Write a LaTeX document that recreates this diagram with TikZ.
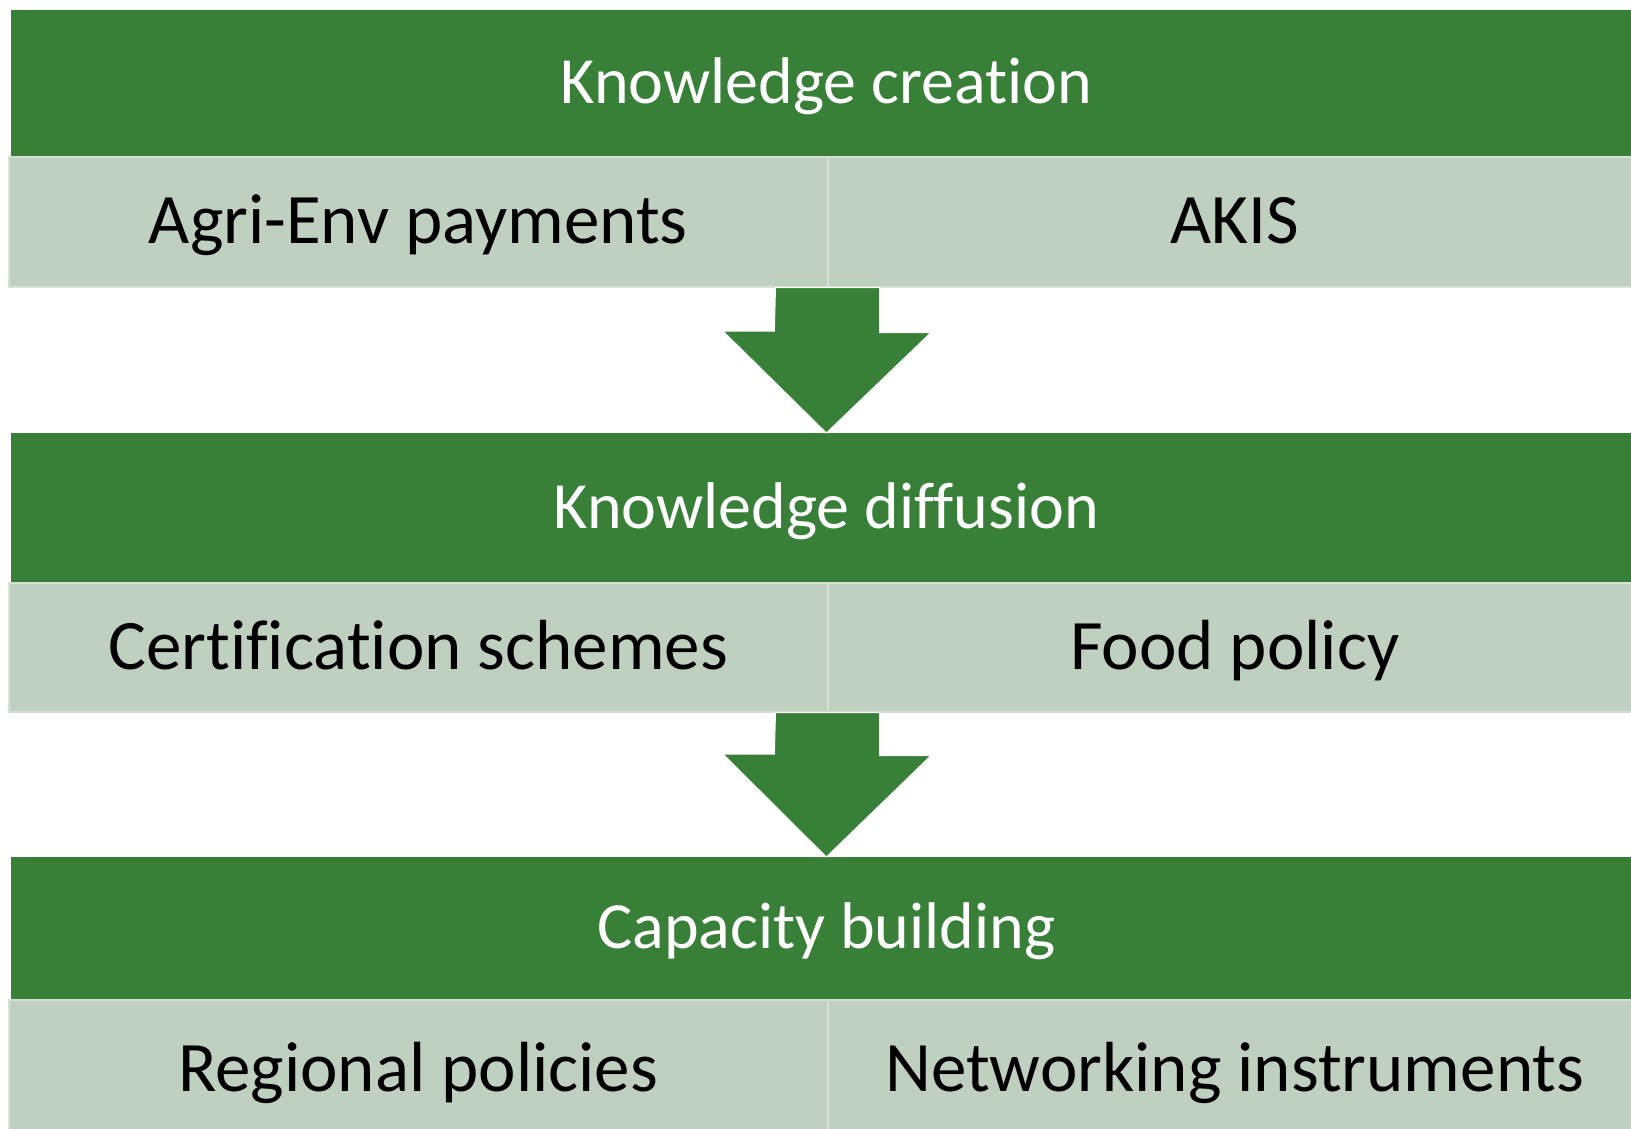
\documentclass[tikz,border=0pt]{standalone}
\usepackage{fontspec}
\newfontfamily\calib[Ligatures={NoCommon}]{Carlito}
\definecolor{kgreen}{RGB}{56,128,56}
\definecolor{kpale}{RGB}{192,208,192}
\definecolor{kline}{RGB}{214,224,214}

\tikzset{every picture/.style={line width=0.75pt}}
\tikzset{
	band/.style={fill=kgreen, draw=none, text=white, anchor=north west, inner sep=0pt,
		font=\calib\fontsize{66}{79}\selectfont, text height=50pt, text depth=9pt,
		minimum width=1630pt},
	cell/.style={fill=kpale, draw=kline, line width=1.5pt, text=black, anchor=north west, inner sep=0pt,
		font=\calib\fontsize{71}{85}\selectfont, text height=54pt, text depth=10pt},
	blockarrow/.style={fill=kgreen, draw=white, line width=1pt}
}

\begin{document}
\begin{tikzpicture}[x=1pt,y=1pt,yscale=-1,xscale=1]
	\path[use as bounding box, clip] (0,0) rectangle (1631,1128);

	% Knowledge creation
	\node[band, minimum height=146.5pt] (create) at (11,9.5) {Knowledge creation};
	\node[cell, minimum width=819pt, minimum height=130pt] (agri) at (8,156) {Agri-Env payments};
	\node[cell, minimum width=814pt, minimum height=130pt] (akis) at (827,156) {AKIS};

	% Knowledge diffusion
	\node[band, minimum height=149pt] (diffuse) at (11,433) {Knowledge diffusion};
	\node[cell, minimum width=819pt, minimum height=129pt] (cert) at (8,582) {Certification schemes};
	\node[cell, minimum width=814pt, minimum height=129pt] (food) at (827,582) {Food policy};

	% Capacity building
	\node[band, minimum height=142pt] (capacity) at (11,857) {Capacity building};
	\node[cell, minimum width=819pt, minimum height=140pt] (region) at (8,999) {Regional policies};
	\node[cell, minimum width=814pt, minimum height=140pt] (network) at (827,999) {Networking instruments};

	% Block arrows
	\draw[blockarrow] (agri.south east) ++(-53,0) -- ++(104,0) -- ++(0,45) -- ++(51.5,0)
		-- (diffuse.north) -- ++(-103.5,-102) -- ++(51.5,0) -- cycle;
	\draw[blockarrow] (cert.south east) ++(-53,0) -- ++(104,0) -- ++(0,43) -- ++(51.5,0)
		-- (capacity.north) -- ++(-103.5,-103) -- ++(51.5,0) -- cycle;

\end{tikzpicture}
\end{document}
